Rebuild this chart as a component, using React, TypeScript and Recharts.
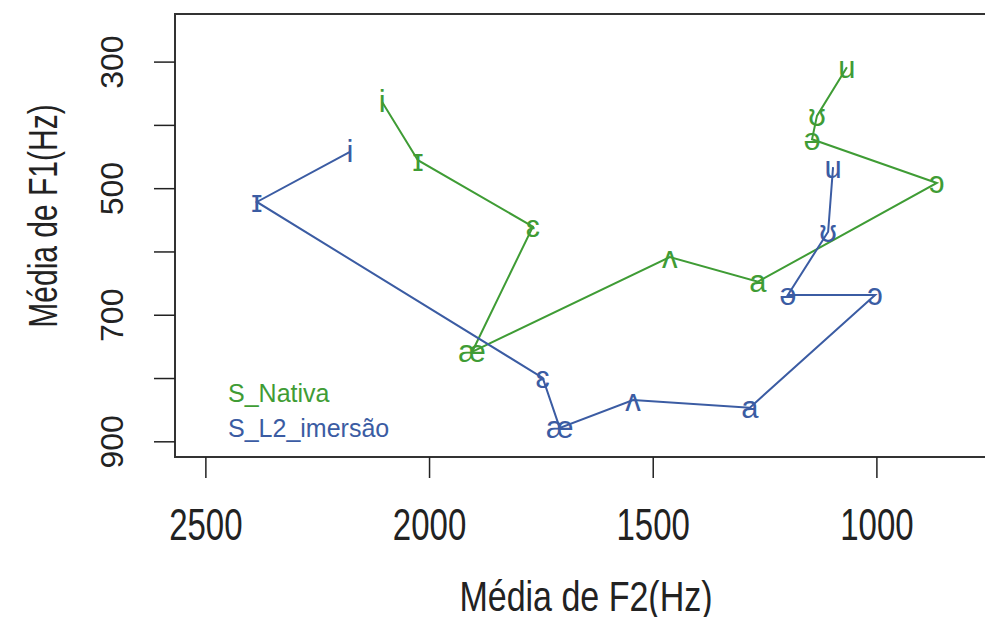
import React from 'react';
import { ScatterChart, Scatter, XAxis, YAxis, ReferenceArea } from 'recharts';

const vowels = ['i', 'ɪ', 'ɛ', 'æ', 'ʌ', 'a', 'ɔ', 'ə', 'ʊ', 'u'];

const nativaF2 = [2106, 2026, 1769, 1905, 1463, 1266, 866, 1145, 1134, 1067];
const nativaF1 = [363, 455, 560, 758, 608, 647, 491, 422, 385, 308];

const imersaoF2 = [2178, 2386, 1747, 1709, 1545, 1284, 1004, 1199, 1109, 1098];
const imersaoF1 = [442, 521, 799, 878, 834, 846, 668, 668, 568, 466];

const xTicks = [2500, 2000, 1500, 1000];
const yTicks = [300, 400, 500, 600, 700, 800, 900];
const yTickLabels = ['300', '', '500', '', '700', '', '900'];

const GREEN = '#3f9c35';
const BLUE = '#3b5ca3';
const FONT = '"Liberation Sans", Arial, sans-serif';

const nativa = vowels.map((v, i) => ({ v, f2: nativaF2[i], f1: nativaF1[i] }));
const imersao = vowels.map((v, i) => ({ v, f2: imersaoF2[i], f1: imersaoF1[i] }));

const vowelShape = (color: string) => (props: any) => {
  const { cx, cy, payload } = props;
  return (
    <text x={cx} y={cy} textAnchor="middle" dominantBaseline="central" fill={color} fontSize={31} fontFamily={FONT}>
      {payload.v}
    </text>
  );
};

const XTick = (props: any) => {
  const { x, payload } = props;
  return (
    <text transform={`translate(${x}, 540) scale(1, 1.35)`} textAnchor="middle" fill="#222" fontSize={33} fontFamily={FONT}>
      {payload.value}
    </text>
  );
};

const YTick = (props: any) => {
  const { y, payload } = props;
  const label = yTickLabels[yTicks.indexOf(payload.value)];
  return (
    <text x={123} y={y} transform={`rotate(-90, 123, ${y})`} textAnchor="middle" fill="#222" fontSize={32} fontFamily={FONT}>
      {label}
    </text>
  );
};

const XTitle = () => (
  <text transform="translate(586, 611) scale(1, 1.25)" textAnchor="middle" fill="#222" fontSize={34} fontFamily={FONT}>
    Média de F2(Hz)
  </text>
);

const YTitle = () => (
  <text transform="translate(57, 216) rotate(-90) scale(1, 1.35)" textAnchor="middle" fill="#222" fontSize={30} fontFamily={FONT}>
    Média de F1(Hz)
  </text>
);

export default function App() {
  return (
    <div style={{ position: 'absolute', left: 0, top: 0, width: 985, height: 617, overflow: 'hidden', background: '#fff' }}>
      <ScatterChart width={1000} height={617} margin={{ top: 14, right: 5, bottom: 0, left: 0 }}>
        <XAxis
          type="number"
          dataKey="f2"
          domain={[736, 2569]}
          reversed
          ticks={xTicks}
          tickSize={21}
          axisLine={false}
          tickLine={{ stroke: '#222', strokeWidth: 1.5 }}
          tick={<XTick />}
          height={160}
          allowDataOverflow
          label={<XTitle />}
        />
        <YAxis
          type="number"
          dataKey="f1"
          domain={[224, 924]}
          reversed
          ticks={yTicks}
          tickSize={21}
          axisLine={false}
          tickLine={{ stroke: '#222', strokeWidth: 1.5 }}
          tick={<YTick />}
          width={175}
          allowDataOverflow
          label={<YTitle />}
        />
        <ReferenceArea x1={736} x2={2569} y1={224} y2={924} fill="none" stroke="#333" strokeWidth={2} ifOverflow="visible" />
        <Scatter name="S_Nativa" data={nativa} line={{ stroke: GREEN, strokeWidth: 2 }} shape={vowelShape(GREEN)} isAnimationActive={false} />
        <Scatter name="S_L2_imersão" data={imersao} line={{ stroke: BLUE, strokeWidth: 2 }} shape={vowelShape(BLUE)} isAnimationActive={false} />
      </ScatterChart>
      <div style={{ position: 'absolute', left: 228, top: 376, fontFamily: FONT, fontSize: 25, lineHeight: '35px' }}>
        <div style={{ color: GREEN }}>S_Nativa</div>
        <div style={{ color: BLUE }}>S_L2_imersão</div>
      </div>
    </div>
  );
}
